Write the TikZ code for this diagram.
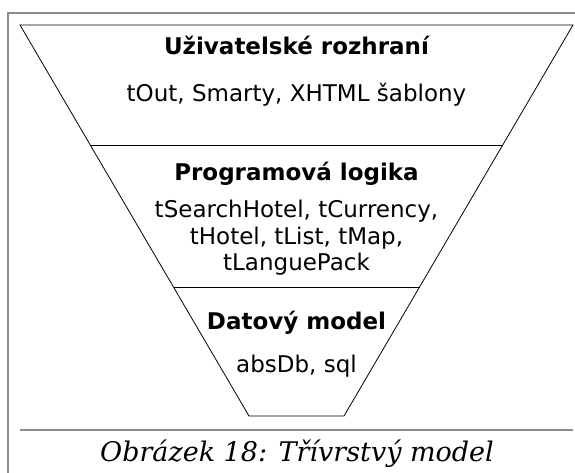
\documentclass[tikz,border=0pt]{standalone}
\usepackage{fontspec}
\setmainfont{DejaVu Sans}
\newfontfamily\capfont{DejaVu Serif}
\usepackage{tikz}

\begin{document}
\begin{tikzpicture}[x=1pt,y=-1pt]
\useasboundingbox (0,0) rectangle (575,473);
\tikzset{
  layer/.style={draw=black,line width=0.8pt},
  title/.style={anchor=base,font=\fontsize{23}{27}\selectfont\bfseries},
  item/.style={anchor=base,font=\fontsize{23}{27}\selectfont},
}
% frame
\draw[line width=2pt,color=gray!90] (8,473) -- (8,13) -- (575,13);
\draw[line width=2pt,color=gray!90] (20,430) -- (573,430);
% corners of the funnel
\coordinate (tl) at (20,25);
\coordinate (tr) at (573,25);
\coordinate (br) at (344,416);
\coordinate (bl) at (249,416);
\coordinate (al) at (90.3,145);
\coordinate (ar) at (502.7,145);
\coordinate (bll) at (173.5,287);
\coordinate (brr) at (419.5,287);
% funnel and layer borders
\draw[layer] (tl) -- (tr) -- (br) -- (bl) -- cycle;
\draw[layer] (al) -- (ar);
\draw[layer] (bll) -- (brr);
% layer labels
\node[title] (ui) at (296.5,55) {Uživatelské rozhraní};
\node[item] (uiA) at (296.5,102) {tOut, Smarty, XHTML šablony};
\node[title] (pl) at (296.5,180) {Programová logika};
\node[item] (plA) at (296.5,217) {tSearchHotel, tCurrency,};
\node[item] (plB) at (296.5,244) {tHotel, tList, tMap,};
\node[item] (plC) at (296.5,270) {tLanguePack};
\node[title] (dm) at (296.5,329) {Datový model};
\node[item] (dmA) at (296.5,372) {absDb, sql};
% caption
\node[anchor=base,font=\fontsize{27}{32}\selectfont\capfont\itshape] (cap) at (297,461) {Obrázek 18: Třívrstvý model};
\end{tikzpicture}
\end{document}
